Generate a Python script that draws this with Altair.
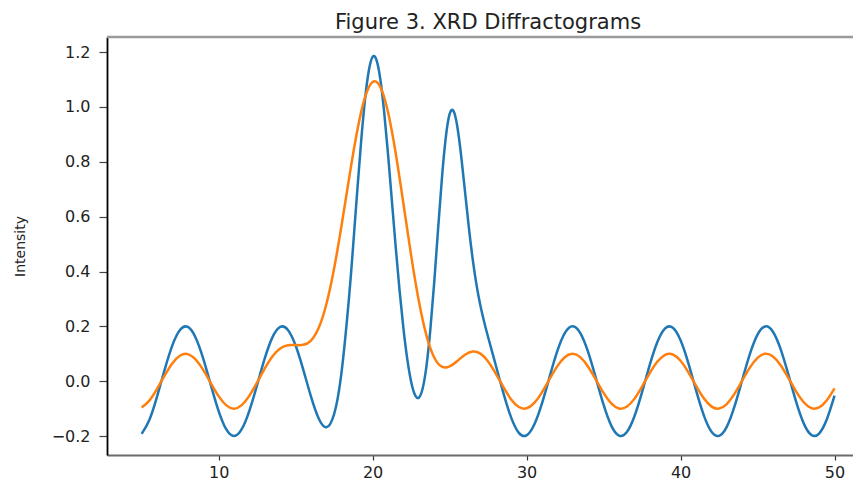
import altair as alt
import pandas as pd

# ---- data ----
x_blue = [5.0, 5.5, 6.0, 6.5, 7.0, 7.5, 8.0, 8.5, 9.0, 9.5, 10.0, 10.5, 11.0, 11.5, 12.0, 12.5,
          13.0, 13.5, 14.0, 14.5, 15.0, 15.5, 16.0, 16.5, 17.0, 17.5, 18.0,
          18.5, 18.75, 19.0, 19.25, 19.5, 19.75, 20.0, 20.25, 20.5, 20.75, 21.0, 21.25, 21.5, 21.75,
          22.0, 22.25, 22.5, 22.75, 23.0, 23.25, 23.5, 23.75, 24.0, 24.25, 24.5, 24.75, 25.0, 25.25,
          25.5, 25.75, 26.0, 26.25, 26.5, 26.75, 27.0, 27.25, 27.5,
          28.0, 28.5, 29.0, 29.5, 30.0, 30.5, 31.0, 31.5, 32.0, 32.5, 33.0, 33.5, 34.0, 34.5, 35.0,
          35.5, 36.0, 36.5, 37.0, 37.5, 38.0, 38.5, 39.0, 39.5, 40.0, 40.5, 41.0, 41.5, 42.0, 42.5,
          43.0, 43.5, 44.0, 44.5, 45.0, 45.5, 46.0, 46.5, 47.0, 47.5, 48.0, 48.5, 49.0, 49.5, 50.0]
y_blue = [-0.1918, -0.1411, -0.0559, 0.0430, 0.1314, 0.1876, 0.1979, 0.1597, 0.0824, -0.0150,
          -0.1088, -0.1759, -0.2000, -0.1751, -0.1073, -0.0133,
          0.0840, 0.1608, 0.1981, 0.1870, 0.1301, 0.0415, -0.0563, -0.1361, -0.1680, -0.1196, 0.0413,
          0.3261, 0.5044, 0.6915, 0.8706, 1.0229, 1.1312, 1.1826, 1.1716, 1.1012, 0.9818, 0.8288,
          0.6593, 0.4894, 0.3313,
          0.1936, 0.0816, -0.0007, -0.0497, -0.0602, -0.0266, 0.0561, 0.1877, 0.3596, 0.5527,
          0.7389, 0.8874, 0.9735, 0.9855,
          0.9288, 0.8224, 0.6919, 0.5610, 0.4453, 0.3508, 0.2760, 0.2148, 0.1611,
          0.0581, -0.0441, -0.1327, -0.1882, -0.1976, -0.1581, -0.0808, 0.0168, 0.1103, 0.1768,
          0.2000, 0.1743, 0.1058, 0.0115, -0.0856,
          -0.1619, -0.1984, -0.1863, -0.1287, -0.0396, 0.0593, 0.1436, 0.1928, 0.1947, 0.1490,
          0.0670, -0.0317, -0.1226, -0.1833, -0.1992,
          -0.1664, -0.0928, 0.0035, 0.0990, 0.1702, 0.1997, 0.1804, 0.1170, 0.0247, -0.0734,
          -0.1537, -0.1963, -0.1908, -0.1389, -0.0525]

x_orange = [5.0, 5.5, 6.0, 6.5, 7.0, 7.5, 8.0, 8.5, 9.0, 9.5, 10.0, 10.5, 11.0, 11.5, 12.0, 12.5,
            13.0, 13.5, 14.0, 14.5, 15.0, 15.5, 16.0, 16.5, 17.0, 17.5, 18.0, 18.5, 19.0, 19.5,
            20.0, 20.5, 21.0, 21.5, 22.0, 22.5, 23.0, 23.5, 24.0, 24.5, 25.0, 25.5, 26.0, 26.5,
            27.0, 27.5, 28.0, 28.5, 29.0, 29.5, 30.0, 30.5, 31.0, 31.5, 32.0, 32.5, 33.0, 33.5,
            34.0, 34.5, 35.0, 35.5, 36.0, 36.5, 37.0, 37.5, 38.0, 38.5, 39.0, 39.5, 40.0, 40.5,
            41.0, 41.5, 42.0, 42.5, 43.0, 43.5, 44.0, 44.5, 45.0, 45.5, 46.0, 46.5, 47.0, 47.5,
            48.0, 48.5, 49.0, 49.5, 50.0]
y_orange = [-0.0959, -0.0706, -0.0279, 0.0215, 0.0657, 0.0938, 0.0989, 0.0799, 0.0412, -0.0075,
            -0.0544, -0.0880, -0.1000, -0.0872, -0.0527, -0.0043,
            0.0470, 0.0908, 0.1195, 0.1314, 0.1319, 0.1326, 0.1484, 0.1946, 0.2817, 0.4110, 0.5737,
            0.7497, 0.9125, 1.0339,
            1.0913, 1.0730, 0.9812, 0.8312, 0.6479, 0.4599, 0.2932, 0.1660, 0.0866, 0.0528, 0.0537,
            0.0738, 0.0967, 0.1083,
            0.1006, 0.0723, 0.0281, -0.0219, -0.0664, -0.0941, -0.0988, -0.0791, -0.0404, 0.0084,
            0.0551, 0.0884, 0.1000, 0.0871,
            0.0529, 0.0057, -0.0428, -0.0809, -0.0992, -0.0932, -0.0644, -0.0198, 0.0296, 0.0718,
            0.0964, 0.0974, 0.0745, 0.0335,
            -0.0159, -0.0613, -0.0917, -0.0996, -0.0832, -0.0464, 0.0018, 0.0495, 0.0851, 0.0999,
            0.0902, 0.0585, 0.0124, -0.0367,
            -0.0768, -0.0982, -0.0954, -0.0695, -0.0262]

x_ticks = [10, 20, 30, 40, 50]
y_ticks = [-0.2, 0.0, 0.2, 0.4, 0.6, 0.8, 1.0, 1.2]

title_text = "Figure 3. XRD Diffractograms"
y_title = "Intensity"

W, H = 746, 418
FONT = "DejaVu Sans"

blue_df = pd.DataFrame({"x": x_blue, "y": y_blue})
orange_df = pd.DataFrame({"x": x_orange, "y": y_orange})

x_scale = alt.Scale(domain=[2.75, 51.2], nice=False, zero=False)
y_scale = alt.Scale(domain=[-0.269, 1.255], nice=False, zero=False)

x_axis = alt.Axis(values=x_ticks, title=None, grid=False, format="d",
                  domainColor="#6b6b6b", domainWidth=2,
                  tickColor="#333333", tickSize=5, tickWidth=1.2,
                  labelFont=FONT, labelFontSize=16, labelColor="#222222", labelPadding=4)
y_axis = alt.Axis(values=y_ticks, title=y_title, grid=False, format=".1f",
                  domainColor="#000000", domainWidth=1.8,
                  tickColor="#444444", tickSize=8, tickWidth=1.2,
                  labelFont=FONT, labelFontSize=16, labelColor="#222222", labelPadding=9,
                  titleFont=FONT, titleFontSize=14, titleFontWeight="normal",
                  titleColor="#222222", titleAngle=-90, titleX=-80, titleY=H / 2,
                  titleAlign="center", titleBaseline="bottom")

blue = alt.Chart(blue_df).mark_line(color="#1f77b4", strokeWidth=2.5,
                                    interpolate="natural").encode(
    x=alt.X("x:Q", scale=x_scale, axis=x_axis),
    y=alt.Y("y:Q", scale=y_scale, axis=y_axis),
)
orange = alt.Chart(orange_df).mark_line(color="#ff7f0e", strokeWidth=2.5,
                                        interpolate="natural").encode(
    x=alt.X("x:Q", scale=x_scale),
    y=alt.Y("y:Q", scale=y_scale),
)
top_line = alt.Chart(pd.DataFrame({"k": [0]})).mark_rule(color="#9a9a9a", strokeWidth=2.5).encode(
    x=alt.value(0), x2=alt.value(W), y=alt.value(0)
)

chart = alt.layer(blue, orange, top_line).properties(
    width=W, height=H,
    autosize=alt.AutoSizeParams(type="none"),
    padding={"left": 99, "top": 29, "right": 0, "bottom": 28},
    title=alt.TitleParams(title_text, font=FONT, fontSize=21, fontWeight="normal",
                          color="#222222", anchor="middle", dx=8, dy=24, offset=10,
                          baseline="alphabetic"),
).configure_view(stroke=None).configure(background="white")

chart.save("out.html", embed_options={"renderer": "svg", "actions": False})
